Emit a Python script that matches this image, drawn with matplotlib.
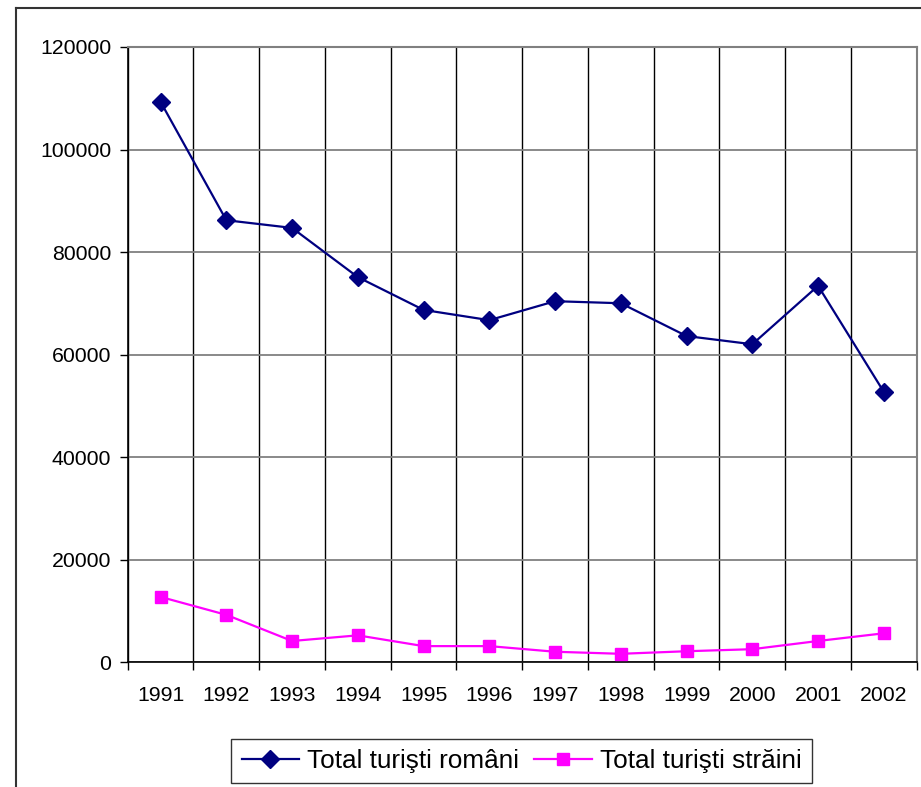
import numpy as np
import matplotlib.pyplot as plt
from matplotlib.lines import Line2D

plt.rcParams['font.family'] = ['Liberation Sans', 'DejaVu Sans']

# Data
years = ['1991', '1992', '1993', '1994', '1995', '1996',
         '1997', '1998', '1999', '2000', '2001', '2002']
romani = [109300, 86200, 84700, 75100, 68700, 66700,
          70400, 70000, 63600, 62000, 73400, 52700]
straini = [12700, 9200, 4100, 5200, 3100, 3100,
           2000, 1600, 2100, 2500, 4100, 5600]

W, H = 921, 787
fig = plt.figure(figsize=(W / 100, H / 100), dpi=100)
ax = fig.add_axes([127.7 / W, 1 - 662 / H, 789 / W, 615 / H])

x = np.arange(len(years))
ax.plot(x, romani, color='#000080', lw=1.6, marker='D', markersize=9,
        label='Total turişti români', zorder=3)
ax.plot(x, straini, color='#FF00FF', lw=1.6, marker='s', markersize=8.5,
        label='Total turişti străini', zorder=3)

ax.set_xlim(-0.5, len(years) - 0.5)
ax.set_ylim(0, 120000)
ax.set_yticks(np.arange(0, 120001, 20000))
ax.set_xticks(x)
ax.set_xticklabels(years)
ax.set_xticks(np.arange(-0.5, len(years)), minor=True)

ax.tick_params(axis='x', which='major', length=0, pad=17, labelsize=15.3)
ax.tick_params(axis='x', which='minor', length=6, width=1, direction='out')
ax.tick_params(axis='y', length=6, width=1, direction='out', pad=6, labelsize=15.3)

ax.grid(axis='y', which='major', color='#808080', lw=1.3)
ax.grid(axis='x', which='minor', color='black', lw=1)
ax.set_axisbelow(True)

for s in ['top', 'right']:
    ax.spines[s].set_color('#808080')
    ax.spines[s].set_linewidth(1.5)
for s in ['left', 'bottom']:
    ax.spines[s].set_color('black')
    ax.spines[s].set_linewidth(1.2)

leg = fig.legend(loc='center', bbox_to_anchor=(521.5 / W, 1 - 761 / H), ncol=2,
                 fontsize=18.8, frameon=True, fancybox=False, edgecolor='black',
                 handlelength=2.2, handletextpad=0.3, columnspacing=0.6,
                 borderpad=0.4)
leg.get_frame().set_linewidth(1)

# outer chart border (left and top visible)
fig.add_artist(Line2D([16 / W, 16 / W], [0, 1 - 8 / H], color='#333333', lw=1.5))
fig.add_artist(Line2D([16 / W, 1], [1 - 8 / H, 1 - 8 / H], color='#333333', lw=1.5))

fig.savefig('out.png', dpi=100)
